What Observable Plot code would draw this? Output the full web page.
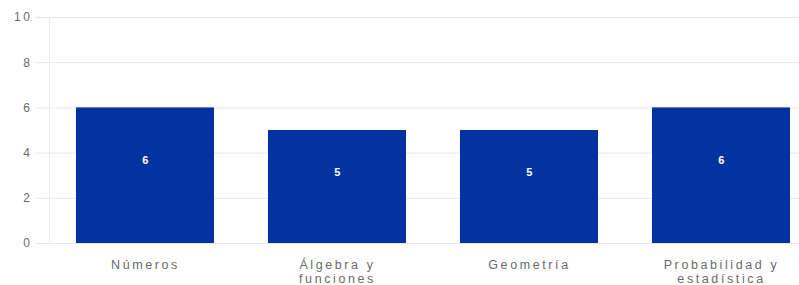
<!DOCTYPE html>
<html>
<head>
<meta charset="utf-8">
<script src="https://cdn.jsdelivr.net/npm/d3@7"></script>
<script src="https://cdn.jsdelivr.net/npm/@observablehq/plot@0.6"></script>
<style>
  html, body { margin: 0; padding: 0; background: #fff; }
  #chart { width: 799px; height: 285px; overflow: hidden; }
  svg { font-family: "Liberation Sans", Arial, Helvetica, sans-serif; }
  svg text { letter-spacing: 2.6px; }
</style>
</head>
<body>
<div id="chart"></div>
<script>
const categories = ["Números", "Álgebra y\nfunciones", "Geometría", "Probabilidad y\nestadística"];
const values = [6, 5, 5, 6];
const yTicks = [0, 2, 4, 6, 8, 10];

const data = categories.map((c, i) => ({category: c, value: values[i]}));

const chart = Plot.plot({
  width: 799,
  height: 285,
  marginTop: 17,
  marginBottom: 42,
  marginLeft: 49,
  marginRight: 0,
  style: {background: "#fff", fontSize: "12px", fontFamily: "'Liberation Sans', Arial, sans-serif"},
  x: {domain: categories, range: [48, 819], paddingInner: 0.28, paddingOuter: 0.14, label: null},
  y: {domain: [0, 10], label: null},
  marks: [
    Plot.gridY(yTicks, {stroke: "#e8e8e8", strokeOpacity: 1}),
    Plot.frame({anchor: "left", stroke: "#ececec", strokeOpacity: 1}),
    Plot.axisY(yTicks, {tickSize: 14, tickPadding: 3, stroke: "#e8e8e8", strokeOpacity: 1, fill: "#6a6a6a", fontSize: 12}),
    Plot.axisX({tickSize: 0, tickPadding: 15, fill: "#6a6a6a", fontSize: 12.5, lineHeight: 1.15}),
    Plot.barY(data, {x: "category", y: "value", fill: "#0033a0"}),
    Plot.text(data, {x: "category", y: d => d.value / 2, text: d => String(d.value), dy: -15, dx: 1, fill: "#fff", fontWeight: "bold", fontSize: 11})
  ]
});
document.getElementById("chart").appendChild(chart);
</script>
</body>
</html>
